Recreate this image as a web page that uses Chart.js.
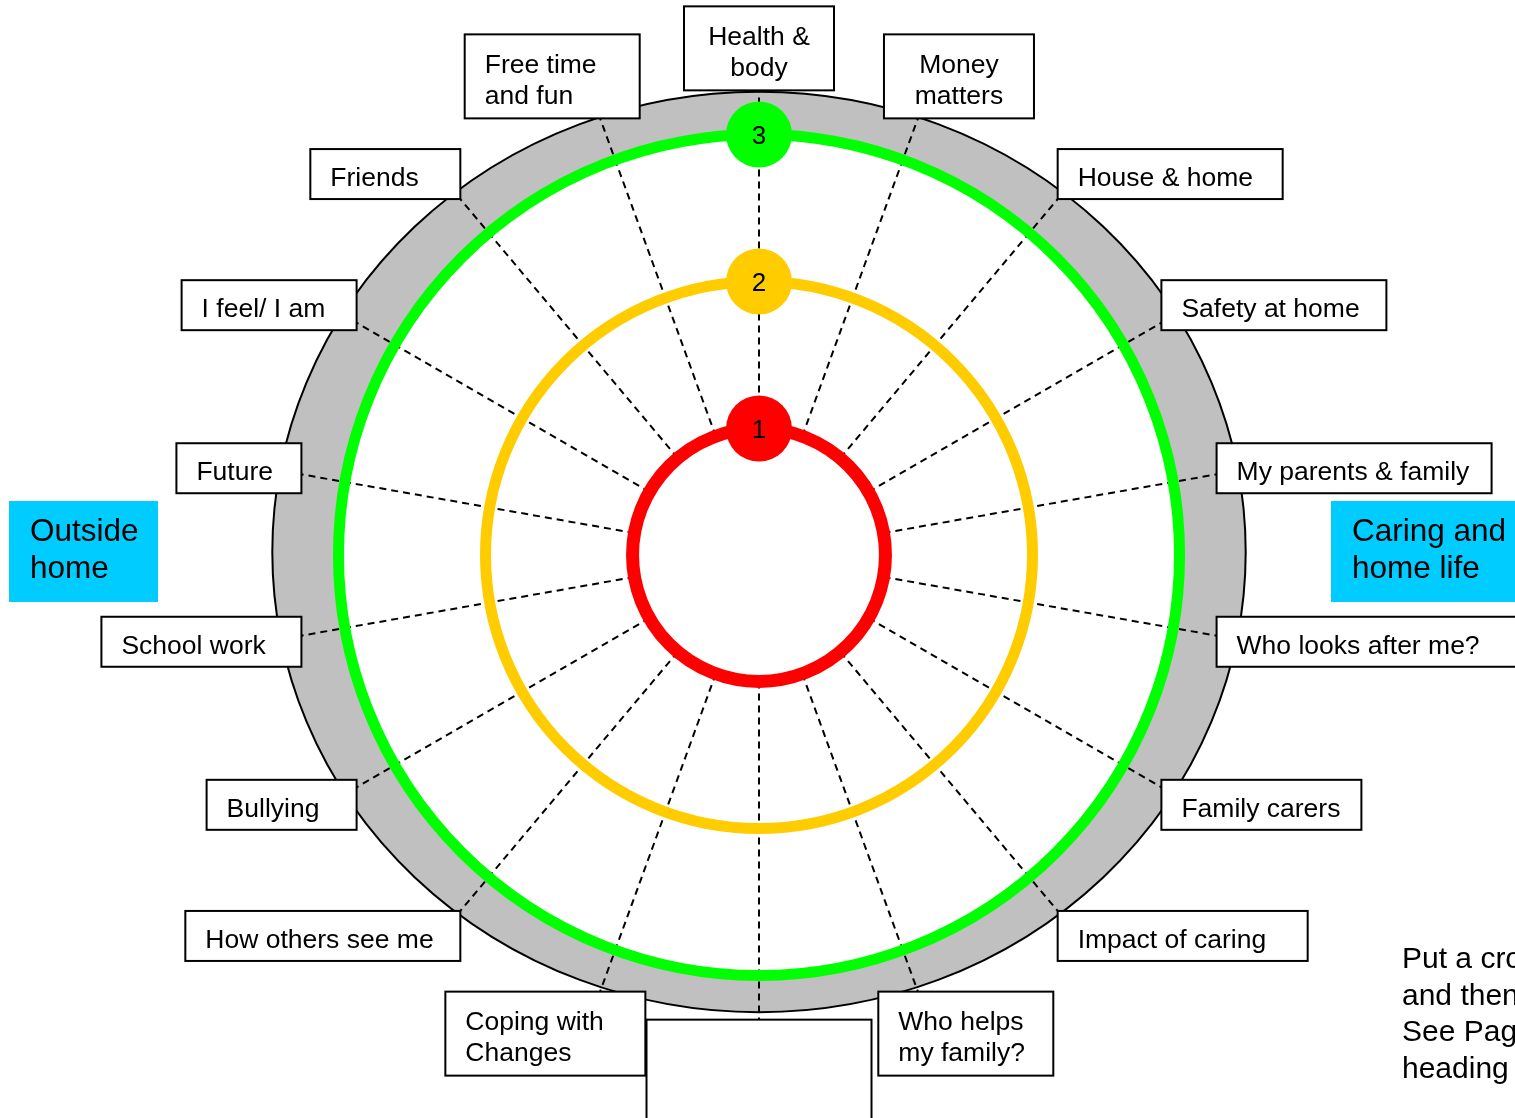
<!DOCTYPE html>
<html><head><meta charset="utf-8">
<script src="https://cdn.jsdelivr.net/npm/chart.js@4/dist/chart.umd.min.js"></script>
<style>html,body{margin:0;padding:0;background:#fff;overflow:hidden}canvas{display:block}</style>
</head><body>
<canvas id="c" width="1515" height="1118"></canvas>
<script>
// ---------------- data ----------------
const categories = [
  ['Health &', 'body'], ['Money', 'matters'], 'House & home', 'Safety at home',
  'My parents & family', 'Who looks after me?', 'Family carers', 'Impact of caring',
  ['Who helps', 'my family?'], '', ['Coping with', 'Changes'], 'How others see me',
  'Bullying', 'School work', 'Future', 'I feel/ I am', 'Friends', ['Free time', 'and fun']
];
const levels = [1, 2, 3];
const levelLabels = ['1', '2', '3'];
const scaleMin = 0.14;
const scaleMax = 3.35;
const greyEdge = [3.45, 3.27];   // horizontal / vertical reach of the grey band
const spokeEnd = 3.30;           // where the dashed spokes meet the label boxes
const sideHeadings = [['Outside', 'home'], ['Caring and', 'home life']];
const noteLines = ['Put a cross', 'and then', 'See Page', 'heading'];

// ---------------- styles ----------------
const FONT = '"Liberation Sans", Arial, Helvetica, sans-serif';
const levelColors = {1: '#ff0000', 2: '#ffcc00', 3: '#00ff00'};
const ringWidths = {1: 13, 2: 11, 3: 11};
const centeredLabels = [0, 1];
const blankBox = {w: 225, h: 150};
const clamp = v => Math.max(-1, Math.min(1, v));

const wheelPlugin = {
  id: 'wheel',
  beforeDraw(chart) {
    const ctx = chart.ctx, r = chart.scales.r;
    ctx.save();
    ctx.fillStyle = '#fff';
    ctx.fillRect(0, 0, chart.width, chart.height);
    ctx.beginPath();
    ctx.ellipse(r.xCenter, r.yCenter - 3, r.getDistanceFromCenterForValue(greyEdge[0]),
      r.getDistanceFromCenterForValue(greyEdge[1]), 0, 0, Math.PI * 2);
    ctx.fillStyle = '#c0c0c0';
    ctx.fill();
    ctx.lineWidth = 2;
    ctx.strokeStyle = '#000';
    ctx.stroke();
    // white inside the outer (level 3) ring
    ctx.beginPath();
    ctx.arc(r.xCenter, r.yCenter, r.getDistanceFromCenterForValue(levels[levels.length - 1]), 0, Math.PI * 2);
    ctx.fillStyle = '#fff';
    ctx.fill();
    const d0 = r.getDistanceFromCenterForValue(levels[0]);
    const d1 = r.getDistanceFromCenterForValue(spokeEnd);
    ctx.setLineDash([7, 5]);
    ctx.lineWidth = 2;
    categories.forEach((_, i) => {
      const a = r.getPointPosition(i, d0), b = r.getPointPosition(i, d1);
      ctx.beginPath(); ctx.moveTo(a.x, a.y); ctx.lineTo(b.x, b.y); ctx.stroke();
    });
    ctx.restore();
  },
  afterDatasetsDraw(chart) {
    const ctx = chart.ctx;
    ctx.save();
    ctx.fillStyle = '#000';
    ctx.font = '26px ' + FONT;
    ctx.textAlign = 'center';
    ctx.textBaseline = 'alphabetic';
    chart.data.datasets.forEach((ds, di) => {
      const el = chart.getDatasetMeta(di).data[0];
      ctx.fillText(ds.label, el.x, el.y + 9.5);
    });
    ctx.restore();
  },
  afterDraw(chart) {
    const ctx = chart.ctx, r = chart.scales.r;
    const d1 = r.getDistanceFromCenterForValue(spokeEnd);
    ctx.save();
    ctx.font = '26.5px ' + FONT;
    ctx.lineWidth = 2;
    ctx.strokeStyle = '#000';
    categories.forEach((lab, i) => {
      const ang = r.getIndexAngle(i);
      const s = Math.sin(ang), c = Math.cos(ang);
      const P = r.getPointPosition(i, d1);
      const lines = Array.isArray(lab) ? lab : [lab];
      let w, h;
      if (lab === '') { w = blankBox.w; h = blankBox.h; }
      else {
        const tw = Math.max(...lines.map(t => ctx.measureText(t).width));
        w = Math.max(125, Math.ceil((tw + 40) / 25) * 25);
        h = 16 + 34 * lines.length;
      }
      const cx = P.x + clamp(s * 1.6) * w / 2;
      const cy = P.y - clamp(c * 1.4) * h / 2;
      ctx.fillStyle = '#fff';
      ctx.fillRect(cx - w / 2, cy - h / 2, w, h);
      ctx.strokeRect(cx - w / 2, cy - h / 2, w, h);
      if (lab === '') return;
      ctx.fillStyle = '#000';
      const centered = centeredLabels.includes(i);
      ctx.textAlign = centered ? 'center' : 'left';
      const tx = centered ? cx : cx - w / 2 + 20;
      lines.forEach((t, k) => {
        const ly = cy + (k - (lines.length - 1) / 2) * 31;
        ctx.fillText(t, tx, ly + 12);
      });
    });
    // side headings
    ctx.font = '31.5px ' + FONT;
    ctx.textAlign = 'left';
    const hy = r.yCenter - 54;
    [[9, 149], [1331, 200]].forEach(([x, w], k) => {
      ctx.fillStyle = '#00ccff';
      ctx.fillRect(x, hy, w, 101);
      ctx.fillStyle = '#000';
      sideHeadings[k].forEach((t, j) => ctx.fillText(t, x + 21, hy + 40 + j * 37));
    });
    // note text
    ctx.font = '30px ' + FONT;
    noteLines.forEach((t, j) => ctx.fillText(t, 1402, 968 + j * 36.5));
    ctx.restore();
  }
};

Chart.defaults.font.family = FONT;

new Chart(document.getElementById('c'), {
  type: 'radar',
  data: {
    labels: categories,
    datasets: levels.map((v, k) => ({
      label: levelLabels[k],
      data: categories.map((_, i) => i === 0 ? v : null),
      pointRadius: 33,
      pointBackgroundColor: levelColors[v],
      pointBorderWidth: 0,
      borderWidth: 0,
      showLine: false,
      fill: false,
      backgroundColor: 'transparent'
    }))
  },
  options: {
    responsive: false,
    animation: false,
    events: [],
    layout: {padding: {top: 83, bottom: 91, left: 200, right: 197}},
    plugins: {legend: {display: false}, tooltip: {enabled: false}},
    scales: {
      r: {
        min: scaleMin,
        max: scaleMax,
        startAngle: 0,
        afterBuildTicks: s => { s.ticks = [scaleMin, ...levels].map(v => ({value: v})); },
        ticks: {display: false},
        pointLabels: {display: false},
        angleLines: {display: false},
        grid: {
          circular: true,
          color: c => levelColors[c.tick && c.tick.value] || 'rgba(0,0,0,0)',
          lineWidth: c => ringWidths[c.tick && c.tick.value] || 0
        }
      }
    }
  },
  plugins: [wheelPlugin]
});
</script>
</body></html>
